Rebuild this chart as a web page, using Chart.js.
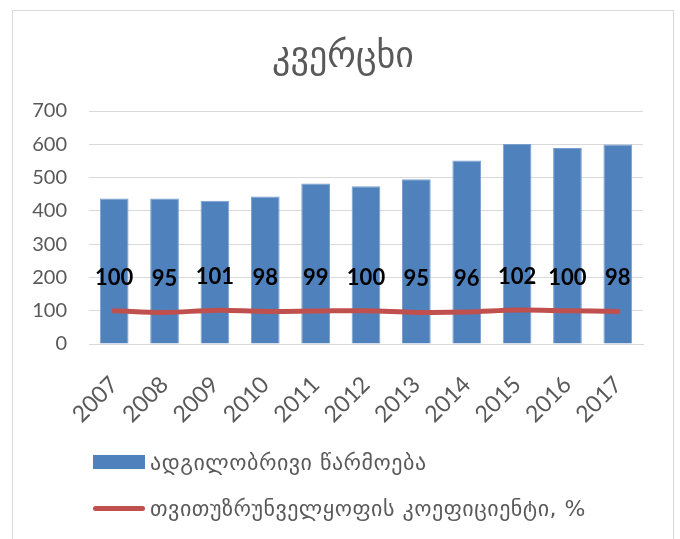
<!DOCTYPE html>
<html>
<head>
<meta charset="utf-8">
<script src="https://cdn.jsdelivr.net/npm/chart.js@4"></script>
<style>
  body { margin: 0; background: #fff; }
  #frame { position: absolute; left: 12px; top: 10px; width: 660px; height: 545px; border: 1px solid #d9d9d9; }
  #chart { position: absolute; left: 0; top: 0; }
  .legend-item { position: absolute; left: 93px; height: 30px; display: flex; align-items: center;
                 font-family: "DejaVu Sans"; font-size: 22px; letter-spacing: 0.5px; color: #595959; white-space: nowrap; }
  .legend-item .swatch { width: 52px; margin-right: 5px; }
</style>
</head>
<body>
<div id="frame"></div>
<canvas id="chart" width="680" height="539"></canvas>
<div class="legend-item" style="top:447px"><span class="swatch" style="height:14px;background:#4f81bd"></span><span id="lab1"></span></div>
<div class="legend-item" style="top:493px"><span class="swatch" style="height:5px;border-radius:3px;background:#c0504d"></span><span id="lab2"></span></div>
<script>
// data
const years = ['2007', '2008', '2009', '2010', '2011', '2012', '2013', '2014', '2015', '2016', '2017'];
const production = [437, 437, 430, 443, 482, 474, 495, 551, 601, 589, 599];
const selfSufficiency = [100, 95, 101, 98, 99, 100, 95, 96, 102, 100, 98];
const yTicks = [0, 100, 200, 300, 400, 500, 600, 700];

const titleText = 'კვერცხი';
const seriesNames = ['ადგილობრივი წარმოება', 'თვითუზრუნველყოფის კოეფიციენტი, %'];

document.getElementById('lab1').textContent = seriesNames[0];
document.getElementById('lab2').textContent = seriesNames[1];

const grey = '#595959';

// numbers drawn above the red line
const ratioLabels = {
    id: 'ratioLabels',
    afterLayout(chart) {
        // centre the title on the whole frame, not just the padded area
        chart.titleBlock.right = 673;
    },
    afterDatasetsDraw(chart) {
        const meta = chart.getDatasetMeta(1);
        const ctx = chart.ctx;
        ctx.save();
        ctx.font = 'bold 22px Lato';
        ctx.fillStyle = '#000';
        ctx.textAlign = 'center';
        ctx.textBaseline = 'middle';
        meta.data.forEach((pt, i) => {
            ctx.fillText(selfSufficiency[i], pt.x, pt.y - 33);
        });
        ctx.restore();
    }
};

new Chart(document.getElementById('chart').getContext('2d'), {
    type: 'bar',
    data: {
        labels: years,
        datasets: [{
            type: 'bar',
            label: seriesNames[0],
            data: production,
            backgroundColor: '#4f81bd',
            borderColor: '#7a9fcf',
            borderWidth: 1,
            categoryPercentage: 1,
            barPercentage: 0.57,
            order: 1
        }, {
            type: 'line',
            label: seriesNames[1],
            data: selfSufficiency,
            borderColor: '#c0504d',
            borderWidth: 5,
            borderCapStyle: 'round',
            tension: 0.35,
            pointRadius: 0,
            order: 0
        }]
    },
    options: {
        responsive: false,
        animation: false,
        layout: { padding: { left: 13, right: 37, top: 0, bottom: 99 } },
        plugins: {
            legend: { display: false },
            tooltip: { enabled: false },
            title: {
                display: true,
                text: titleText,
                color: grey,
                font: { family: 'DejaVu Sans', size: 36, weight: 'normal' },
                padding: { top: 36, bottom: 31.8 }
            }
        },
        scales: {
            y: {
                min: 0,
                max: 700,
                afterBuildTicks: scale => { scale.ticks = yTicks.map(v => ({ value: v })); },
                afterFit: scale => { scale.width = 76; },
                ticks: { color: grey, font: { family: 'Lato', size: 20 }, padding: 22 },
                grid: { color: '#d9d9d9', drawTicks: false },
                border: { display: false }
            },
            x: {
                afterFit: scale => { scale.height = 96; },
                ticks: { color: grey, font: { family: 'Lato', size: 23 }, minRotation: 45, maxRotation: 45, padding: 19 },
                grid: { display: false },
                border: { color: '#d9d9d9' }
            }
        }
    },
    plugins: [ratioLabels]
});
</script>
</body>
</html>
